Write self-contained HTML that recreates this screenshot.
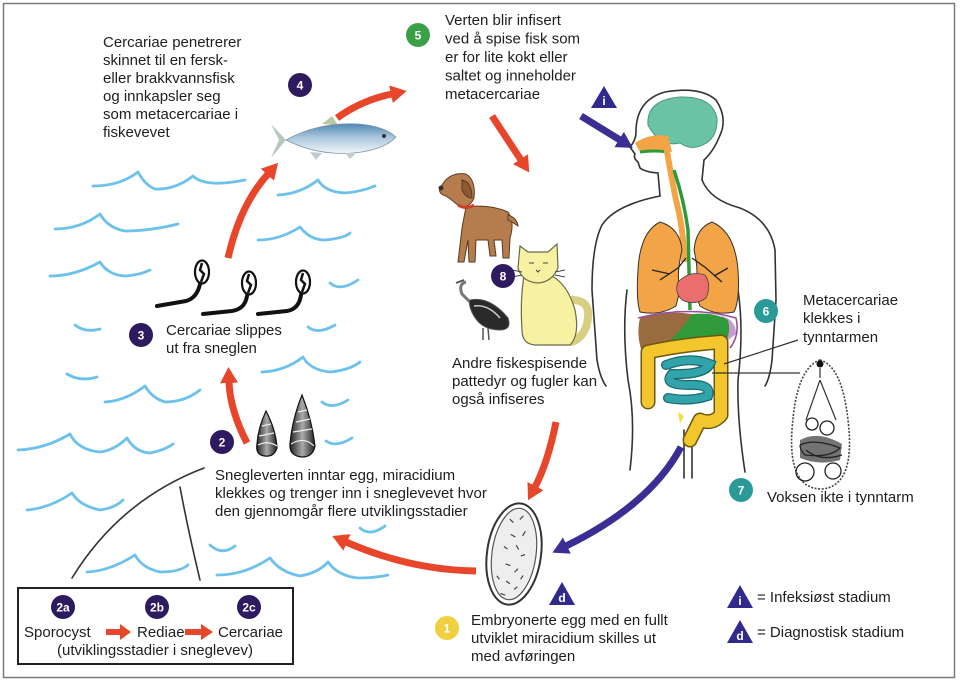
<!DOCTYPE html>
<html><head><meta charset="utf-8">
<style>
html,body{margin:0;padding:0;background:#fff;}
svg{display:block;}
text{font-family:"Liberation Sans",Arial,sans-serif;}
.t{font-size:15px;fill:#1e1e1e;}
.n{font-size:12px;font-weight:bold;fill:#fff;text-anchor:middle;}
.w{fill:none;stroke:#6cc2ea;stroke-width:2.8;stroke-linecap:round;stroke-linejoin:round;}
.ol{fill:none;stroke:#333;stroke-width:1.6;stroke-linecap:round;}
</style></head><body>
<svg width="960" height="682" viewBox="0 0 960 682" xmlns="http://www.w3.org/2000/svg">
<defs>
<marker id="ar" markerUnits="userSpaceOnUse" viewBox="0 0 16 18" refX="1" refY="9" markerWidth="16" markerHeight="18" orient="auto"><path d="M0,0 L16,9 L0,18 z" fill="#e8462b"/></marker>
<marker id="ab" markerUnits="userSpaceOnUse" viewBox="0 0 16 18" refX="1" refY="9" markerWidth="16" markerHeight="18" orient="auto"><path d="M0,0 L16,9 L0,18 z" fill="#3a2d93"/></marker>
<linearGradient id="fishg" x1="0" y1="0" x2="0" y2="1">
<stop offset="0" stop-color="#4f86b4"/><stop offset="0.45" stop-color="#a9c6dc"/><stop offset="1" stop-color="#f2f5f8"/></linearGradient>
<linearGradient id="snail" x1="0" y1="0" x2="1" y2="0">
<stop offset="0" stop-color="#222"/><stop offset="0.5" stop-color="#aaa"/><stop offset="1" stop-color="#222"/></linearGradient>
</defs>

<rect x="3.5" y="3.5" width="951" height="674" fill="#fff" stroke="#7a7a7a" stroke-width="1.5"/>

<!-- waves -->
<g class="w">
<path d="M93,186 Q120,186 138,172 Q145,185 155,189 Q175,190 193,176 Q205,188 245,180"/>
<path d="M278,195 Q300,194 318,180 Q325,192 345,193 Q360,192 375,186"/>
<path d="M55,229 Q80,229 100,214 Q108,228 125,231 Q150,231 178,224"/>
<path d="M258,240 Q280,240 300,227 Q310,240 325,240 Q345,238 350,233"/>
<path d="M50,276 Q75,276 100,262 Q108,275 125,276 Q140,275 150,270"/>
<path d="M330,283 Q340,292 358,280"/>
<path d="M75,325 Q85,333 100,329"/>
<path d="M308,327 Q318,335 335,325"/>
<path d="M67,374 Q80,382 97,377"/>
<path d="M105,402 Q125,401 145,386 Q152,398 165,402 Q185,402 200,390"/>
<path d="M262,372 Q285,371 303,357 Q310,370 330,372 Q350,370 360,362"/>
<path d="M18,450 Q45,449 70,434 Q78,450 100,452 Q115,450 127,438 Q135,452 150,453 Q165,450 173,444"/>
<path d="M322,402 Q332,410 348,400"/>
<path d="M326,441 Q336,448 352,438"/>
<path d="M27,510 Q50,508 72,493 Q80,506 100,510 Q115,508 123,500"/>
<path d="M87,572 Q110,571 135,555 Q142,568 160,572 Q180,572 188,565"/>
<path d="M210,545 Q222,556 235,546"/>
<path d="M217,575 Q245,575 270,558 Q280,572 300,576 Q318,573 328,562 Q338,576 358,578 Q375,578 388,575"/>
<path d="M360,528 Q370,537 385,526"/>
</g>

<!-- fin curves -->
<path d="M72,578 Q120,500 204,468" class="ol" stroke-width="1.4"/>
<path d="M180,487 Q188,530 200,580" class="ol" stroke-width="1.4"/>

<!-- legend box -->
<rect x="18" y="588" width="275" height="76" fill="#fff" stroke="#222" stroke-width="2"/>
<circle cx="63" cy="607" r="12" fill="#2d1a5f"/><text x="63" y="611.5" class="n">2a</text>
<circle cx="157" cy="607" r="12" fill="#2d1a5f"/><text x="157" y="611.5" class="n">2b</text>
<circle cx="249" cy="607" r="12" fill="#2d1a5f"/><text x="249" y="611.5" class="n">2c</text>
<text x="24" y="637" class="t">Sporocyst</text>
<text x="137" y="637" class="t">Rediae</text>
<text x="218" y="637" class="t">Cercariae</text>
<text x="155" y="655" class="t" text-anchor="middle">(utviklingsstadier i sneglevev)</text>
<polygon points="106,629 120,629 120,624 131,632 120,640 120,635 106,635" fill="#e8462b"/>
<polygon points="185,629 201,629 201,624 213,632 201,640 201,635 185,635" fill="#e8462b"/>

<!-- fish -->
<path d="M286,140 L271,124 L279,140 L271,158 Z" fill="#b9c8bd"/>
<path d="M322,124 L332,116 L338,125 Z" fill="#b9c8a0"/>
<path d="M286,140 Q318,122 358,124 Q384,126 396,137 Q384,150 354,153 Q318,156 286,140 Z" fill="url(#fishg)" stroke="#7a95a8" stroke-width="0.8"/>
<circle cx="384" cy="136" r="2" fill="#333"/>
<path d="M310,152 L316,160 L322,153" fill="#c0ccd0"/>
<path d="M345,153 L350,159 L356,153" fill="#c0ccd0"/>

<!-- cercariae -->
<g>
<path d="M200,284 Q197,298 186,301 L157,306" fill="none" stroke="#111" stroke-width="4" stroke-linecap="round"/>
<ellipse cx="202" cy="272" rx="7" ry="11.5" fill="#fff" stroke="#111" stroke-width="2.2"/>
<path d="M202,263 L200,270 L204,274 L201,282" fill="none" stroke="#111" stroke-width="2.5"/>
<path d="M247,296 Q245,309 232,311 L203,314" fill="none" stroke="#111" stroke-width="4" stroke-linecap="round"/>
<ellipse cx="249" cy="283" rx="7" ry="11.5" fill="#fff" stroke="#111" stroke-width="2.2"/>
<path d="M249,274 L247,281 L251,285 L248,293" fill="none" stroke="#111" stroke-width="2.5"/>
<path d="M301,295 Q299,309 287,311 L258,314" fill="none" stroke="#111" stroke-width="4" stroke-linecap="round"/>
<ellipse cx="303" cy="282" rx="7" ry="11.5" fill="#fff" stroke="#111" stroke-width="2.2"/>
<path d="M303,273 L301,280 L305,284 L302,292" fill="none" stroke="#111" stroke-width="2.5"/>
</g>

<!-- snails -->
<path d="M266,411 Q276,430 277,448 Q274,457 265,456 Q255,455 257,444 Q258,428 266,411 Z" fill="url(#snail)" stroke="#111" stroke-width="1.2"/>
<path d="M262,426 L271,424 M259,436 L274,433 M258,445 Q268,440 277,446" stroke="#eee" stroke-width="1.2" fill="none"/>
<path d="M302,395 Q312,420 315,446 Q313,457 302,457 Q289,456 290,444 Q292,420 302,395 Z" fill="url(#snail)" stroke="#111" stroke-width="1.2"/>
<path d="M298,412 L307,410 M296,422 L310,419 M293,432 L312,429 M291,444 Q304,436 314,446" stroke="#eee" stroke-width="1.2" fill="none"/>

<!-- egg -->
<g transform="rotate(8 514 554)">
<ellipse cx="514" cy="554" rx="27" ry="51" fill="#fff" stroke="#333" stroke-width="2"/>
<ellipse cx="514" cy="554" rx="22" ry="46" fill="#eee" stroke="#555" stroke-width="1.2"/>
<g stroke="#444" stroke-width="1.2">
<path d="M505,520 l4,3 M518,515 l-3,4 M508,535 l5,2 M522,530 l-2,5 M503,548 l4,2 M515,545 l3,4 M525,553 l-4,2 M507,565 l5,1 M520,568 l-3,4 M510,582 l4,2 M522,586 l-3,3 M506,595 l5,1 M526,574 l-2,4 M500,578 l3,3"/>
</g>
</g>

<!-- fluke -->
<path d="M820,360 Q842,366 848,420 Q856,486 822,489 Q788,489 792,430 Q796,368 820,360 Z" fill="#fff" stroke="#444" stroke-width="1.6" stroke-dasharray="2 1.5"/>
<circle cx="820" cy="364" r="3.5" fill="#111"/>
<path d="M820,368 L820,378 M820,380 L806,420 M820,380 L836,420" stroke="#333" stroke-width="1.2" fill="none"/>
<path d="M800,440 Q818,430 842,444 L840,460 Q820,466 800,458Z" fill="#444" opacity="0.75"/>
<g fill="none" stroke="#222" stroke-width="1.3">
<circle cx="812" cy="424" r="6"/><circle cx="827" cy="428" r="7"/><circle cx="805" cy="472" r="9"/><circle cx="833" cy="471" r="8"/>
<path d="M800,445 Q815,438 840,448 Q830,458 805,455 Q800,450 800,445 M806,450 Q820,462 842,455"/>
</g>

<!-- human -->
<g class="ol">
<path d="M660,196 L658,173 Q645,172 640,168 L638,162 Q633,158 635,154 L630,147 Q636,140 636,132 Q636,100 665,92 Q700,86 716,100 Q726,115 722,130 Q715,150 704,160 L702,180"/>
<path d="M660,196 Q615,205 602,225 Q592,245 592,290 L597,360 Q600,378 606,386"/>
<path d="M627,290 Q622,330 628,380 Q636,420 630,470"/>
<path d="M702,180 Q710,200 740,208 Q770,220 775,250 L776,300 L772,360 Q770,378 765,386"/>
<path d="M738,290 Q744,330 738,380 Q737,420 745,472"/>
<path d="M684,430 L684,478 M692,430 L692,478"/>
</g>
<path d="M648,125 Q646,100 680,97 Q712,96 717,118 Q718,140 700,146 Q690,150 680,143 Q660,148 648,125Z" fill="#69c3a4" stroke="#4a9a80" stroke-width="1"/>
<path d="M635,143 Q650,133 668,136 L672,152 Q655,150 640,152Z" fill="#f2a446"/>
<path d="M640,152 Q655,150 668,152" fill="none" stroke="#2e9a3a" stroke-width="3"/>
<path d="M666,145 Q670,170 676,200 Q684,230 684,262" fill="none" stroke="#f2a446" stroke-width="6"/>
<path d="M674,170 Q684,200 688,230 L690,310" fill="none" stroke="#2e9a3a" stroke-width="3.5"/>
<path d="M660,222 Q640,232 638,270 Q636,300 640,312 Q660,316 676,306 L680,290 Q676,275 682,250 Q680,228 660,222Z" fill="#f2a446" stroke="#333" stroke-width="1"/>
<path d="M712,222 Q735,232 738,270 Q740,300 734,312 Q715,316 700,306 L694,290 Q700,275 694,250 Q696,228 712,222Z" fill="#f2a446" stroke="#333" stroke-width="1"/>
<path d="M686,258 L678,268 L660,280 M670,274 L652,270 M692,258 L706,268 L722,282 M714,276 L728,268" fill="none" stroke="#222" stroke-width="1.3"/>
<path d="M678,282 Q690,270 705,275 Q712,285 706,298 Q695,306 682,300 Q674,292 678,282Z" fill="#ec6d6d" stroke="#444" stroke-width="0.8"/>
<path d="M722,316 Q736,320 736,334 L728,340 Q722,330 722,316Z" fill="#c89ad0"/>
<path d="M640,318 Q665,310 692,314 L694,330 Q680,335 670,350 L642,352 Q636,335 640,318Z" fill="#9a6a40"/>
<path d="M692,314 Q715,312 728,320 Q732,336 722,346 Q705,352 690,348 Q676,346 672,338 Q682,330 692,314Z" fill="#2e9a3a"/>
<path d="M638,318 Q690,305 736,318 Q740,335 730,348" fill="none" stroke="#9a4aa0" stroke-width="1.5"/>
<path d="M648,402 L648,352 Q680,345 721,342 L721,415 Q712,425 700,420 L690,440" fill="none" stroke="#6a5a10" stroke-width="15" stroke-linecap="round" stroke-linejoin="round"/>
<path d="M648,402 L648,352 Q680,345 721,342 L721,415 Q712,425 700,420 L690,440" fill="none" stroke="#f4c62e" stroke-width="12" stroke-linecap="round" stroke-linejoin="round"/>
<path d="M666,365 Q690,356 710,364 Q705,375 672,374 Q662,385 690,385 Q712,384 708,396 Q690,402 668,398" fill="none" stroke="#1c6a70" stroke-width="10" stroke-linecap="round"/>
<path d="M666,365 Q690,356 710,364 Q705,375 672,374 Q662,385 690,385 Q712,384 708,396 Q690,402 668,398" fill="none" stroke="#31a3ab" stroke-width="7.5" stroke-linecap="round"/>
<path d="M678,412 L684,416 L680,424 Z" fill="#f4e040"/>
<path d="M798,340 L724,364 M712,373 L800,373" stroke="#333" stroke-width="1.2"/>

<!-- dog -->
<g stroke="#5a3a20" stroke-width="1">
<path d="M466,207 Q490,204 508,212 Q515,222 510,238 L509,258 L503,258 L502,240 L494,240 L496,256 L490,256 L488,240 L476,240 L475,262 L469,262 L468,240 L464,262 L458,262 L462,228 Z" fill="#b57d4e"/>
<path d="M508,215 Q517,218 518,226 Q512,222 508,220Z" fill="#b57d4e"/>
<path d="M444,182 Q452,172 466,174 Q476,180 474,198 Q470,208 460,207 Q452,200 446,196 Q438,194 440,188 Z" fill="#b57d4e"/>
<path d="M462,180 Q472,182 472,198 Q466,198 462,190Z" fill="#8a5a34"/>
</g>
<path d="M458,205 Q466,210 474,205" stroke="#d43a2a" stroke-width="3" fill="none"/>
<circle cx="441" cy="188" r="2.5" fill="#333"/>

<!-- bird -->
<path d="M466,282 Q458,284 462,294 Q468,300 472,304" fill="none" stroke="#777" stroke-width="3"/>
<path d="M470,300 Q490,296 508,318 Q512,330 500,330 Q482,330 474,316 Q468,306 470,300Z" fill="#2a2a2a" stroke="#555"/>
<path d="M474,306 Q488,304 500,318" stroke="#ccc" stroke-width="1.5" fill="none"/>
<path d="M483,328 L483,340 M488,328 L489,340" stroke="#555" stroke-width="1.5"/>
<path d="M464,280 L456,283" stroke="#555" stroke-width="2"/>

<!-- cat -->
<g stroke="#6a6a4a" stroke-width="1.2" fill="#f6f2a2">
<path d="M572,300 Q590,300 588,318 Q586,336 572,342" fill="none" stroke="#d8d080" stroke-width="8" stroke-linecap="round"/>
<path d="M524,276 Q520,300 522,330 Q522,344 535,345 L570,345 Q580,335 575,310 Q568,285 552,276Z"/>
<path d="M520,246 L528,252 L548,252 L557,244 L558,268 Q552,282 538,283 Q522,282 518,268Z"/>
</g>
<g stroke="#444" stroke-width="1" fill="none">
<path d="M529,263 l5,0 M543,263 l5,0 M536,270 l2,2 l2,-2 M522,272 l-10,-2 M522,275 l-10,2 M555,272 l10,-2 M555,275 l10,2"/>
</g>

<!-- arrows -->
<g fill="none" stroke="#e8462b" stroke-width="7">
<path d="M247,443 Q230,410 229,382" marker-end="url(#ar)"/>
<path d="M228,258 Q240,205 268,174" marker-end="url(#ar)"/>
<path d="M337,118 Q362,100 392,94" marker-end="url(#ar)"/>
<path d="M492,116 L521,160" marker-end="url(#ar)"/>
<path d="M556,422 Q548,462 535,487" marker-end="url(#ar)"/>
<path d="M476,571 Q410,570 346,542" marker-end="url(#ar)"/>
</g>
<g fill="none" stroke="#3a2d93" stroke-width="7">
<path d="M581,116 L620,140" marker-end="url(#ab)"/>
<path d="M681,447 Q650,505 566,546" marker-end="url(#ab)"/>
</g>

<!-- triangles -->
<polygon points="604,86 591,108 617,108" fill="#2f2a8c"/><text x="604" y="105" class="n" font-size="11">i</text>
<polygon points="562,582 549,605 575,605" fill="#2f2a8c"/><text x="562" y="602" class="n" font-size="11">d</text>
<polygon points="740,585 727,608 753,608" fill="#2f2a8c"/><text x="740" y="605" class="n" font-size="11">i</text>
<polygon points="740,620 727,643 753,643" fill="#2f2a8c"/><text x="740" y="640" class="n" font-size="11">d</text>

<!-- number circles -->
<circle cx="300" cy="85" r="12" fill="#2d1a5f"/><text x="300" y="89.5" class="n">4</text>
<circle cx="418" cy="35" r="12" fill="#3aa047"/><text x="418" y="39.5" class="n">5</text>
<circle cx="141" cy="335" r="12" fill="#2d1a5f"/><text x="141" y="339.5" class="n">3</text>
<circle cx="222" cy="442" r="12" fill="#2d1a5f"/><text x="222" y="446.5" class="n">2</text>
<circle cx="503" cy="276" r="12" fill="#2d1a5f"/><text x="503" y="280.5" class="n">8</text>
<circle cx="766" cy="311" r="12" fill="#2a9a98"/><text x="766" y="315.5" class="n">6</text>
<circle cx="741" cy="490" r="12" fill="#2a9a98"/><text x="741" y="494.5" class="n">7</text>
<circle cx="447" cy="628" r="12" fill="#f0d040"/><text x="447" y="632.5" class="n">1</text>

<!-- texts -->
<text class="t" x="103" y="47">Cercariae penetrerer</text>
<text class="t" x="103" y="65">skinnet til en fersk-</text>
<text class="t" x="103" y="83">eller brakkvannsfisk</text>
<text class="t" x="103" y="101">og innkapsler seg</text>
<text class="t" x="103" y="119">som metacercariae i</text>
<text class="t" x="103" y="137">fiskevevet</text>

<text class="t" x="445" y="25">Verten blir infisert</text>
<text class="t" x="445" y="43.5">ved å spise fisk som</text>
<text class="t" x="445" y="62">er for lite kokt eller</text>
<text class="t" x="445" y="80.5">saltet og inneholder</text>
<text class="t" x="445" y="99">metacercariae</text>

<text class="t" x="166" y="335">Cercariae slippes</text>
<text class="t" x="166" y="353">ut fra sneglen</text>

<text class="t" x="215" y="480">Snegleverten inntar egg, miracidium</text>
<text class="t" x="215" y="498">klekkes og trenger inn i sneglevevet hvor</text>
<text class="t" x="215" y="516">den gjennomgår flere utviklingsstadier</text>

<text class="t" x="452" y="368">Andre fiskespisende</text>
<text class="t" x="452" y="386">pattedyr og fugler kan</text>
<text class="t" x="452" y="404">også infiseres</text>

<text class="t" x="803" y="305">Metacercariae</text>
<text class="t" x="803" y="323">klekkes i</text>
<text class="t" x="803" y="342">tynntarmen</text>

<text class="t" x="767" y="502">Voksen ikte i tynntarm</text>

<text class="t" x="471" y="625">Embryonerte egg med en fullt</text>
<text class="t" x="471" y="643">utviklet miracidium skilles ut</text>
<text class="t" x="471" y="661">med avføringen</text>

<text class="t" x="757" y="602">= Infeksiøst stadium</text>
<text class="t" x="757" y="637">= Diagnostisk stadium</text>
</svg>
</body></html>
